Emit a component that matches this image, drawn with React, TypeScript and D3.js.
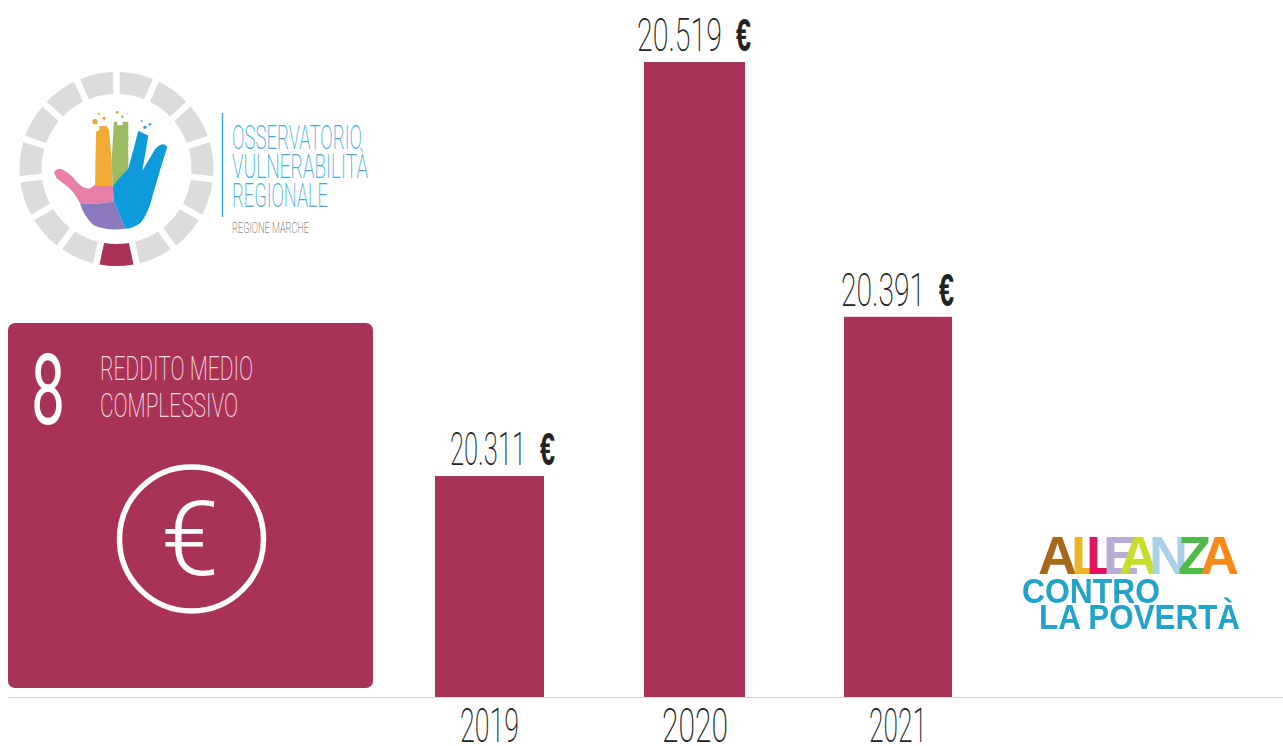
import React from "react";
import * as d3 from "d3";

const years = ["2019", "2020", "2021"];
const incomes = [20311, 20519, 20391];
const incomeLabels = ["20.311", "20.519", "20.391"];
const alleanzaLetters = ["A", "L", "L", "E", "A", "N", "Z", "A"];
const alleanzaColors = ["#a5691f", "#eeb325", "#dd1760", "#b9add8", "#c8dc2c", "#a9d0e6", "#4fb948", "#f68b1f"];
const alleanzaX = [1038, 1071, 1086, 1103, 1119, 1149, 1178, 1200];
const ringSegments = d3.range(15);

const WINE = "#a93356";
const BLUE = "#3fabdc";
const INK = "#222";
const THIN = "Roboto, 'Noto Sans', sans-serif";
const BOLD = "'Liberation Sans', Arial, sans-serif";

const y = d3.scaleLinear().domain([20200, 20519]).range([697, 62]);
const x = d3.scaleOrdinal<string, number>().domain(years).range([489.5, 694.5, 898]);
const barWidth = d3.scaleOrdinal<string, number>().domain(years).range([109, 101, 108]);
const labelStart = d3.scaleOrdinal<string, number>().domain(years).range([450, 637, 841]);
const labelWidth = d3.scaleOrdinal<string, number>().domain(years).range([76, 85, 84]);
const tickStart = d3.scaleOrdinal<string, number>().domain(years).range([460, 662, 869]);
const tickWidth = d3.scaleOrdinal<string, number>().domain(years).range([59, 66, 58]);

const ringArc = d3.arc<number>()
  .innerRadius(75)
  .outerRadius(97)
  .padAngle(0.075)
  .padRadius(86)
  .startAngle((d) => Math.PI + ((d - 0.5) * 2 * Math.PI) / 15)
  .endAngle((d) => Math.PI + ((d + 0.5) * 2 * Math.PI) / 15);

function Thin({ x, y, size, width, fill = INK, weight = 200, children }: any) {
  return (
    <text x={x} y={y} fontFamily={THIN} fontWeight={weight} fontSize={size} fill={fill}
      textLength={width} lengthAdjust="spacingAndGlyphs">{children}</text>
  );
}

const handShapes: [string, string][] = [
  ["#e77fa8", "M42 218 Q48 204 66 208 Q88 218 110 245 Q130 268 150 265 L165 255 L218 258 L222 305 L170 311 L120 310 Q105 280 85 262 L50 235 Z"],
  ["#8b78bd", "M120 310 L170 311 L222 305 L256 386 Q200 394 160 375 Q132 350 120 310 Z"],
  ["#f2ac35", "M165 258 L168 95 L178 90 L178 78 L200 78 L207 90 L215 180 L218 258 Z"],
  ["#9dbb62", "M215 180 L222 65 L232 65 L232 76 L248 76 L248 65 L265 65 L265 205 L240 240 L218 258 Z"],
  ["#0f9bdc", "M218 258 L265 205 L280 150 L295 92 L325 107 L307 212 L345 148 Q368 122 382 140 L362 205 L337 290 Q325 340 302 368 Q282 385 256 386 L222 305 Z"],
];
const handDots: [number, number, number, string][] = [
  [165, 65, 8, "#e8a84a"], [192, 55, 5, "#e8a84a"], [177, 42, 4, "#f2c04a"],
  [232, 37, 5, "#d8b060"], [247, 50, 4, "#a8b86a"], [262, 42, 2, "#b7c485"],
  [305, 63, 3, "#4aa8d8"], [330, 73, 4, "#4aa8d8"], [315, 82, 5, "#2f9fdc"],
];

export default function App() {
  return (
    <svg width={1283} height={746} viewBox="0 0 1283 746"
      style={{ position: "absolute", left: 0, top: 0, background: "#fff" }}>
      <defs>
        <filter id="soft" x="-5%" y="-5%" width="110%" height="110%">
          <feGaussianBlur stdDeviation="0.5" />
        </filter>
      </defs>

      {/* ring logo */}
      <g filter="url(#soft)">
        <g transform="translate(116.5,169)">
          {ringSegments.map((d) => (
            <path key={d} d={ringArc(d) || ""} fill={d === 0 ? WINE : "#dcdcdc"} />
          ))}
        </g>
        <g transform="translate(40,100) scale(0.3333)">
          {handShapes.map(([c, p], i) => <path key={i} d={p} fill={c} />)}
          {handDots.map(([cx, cy, r, c], i) => <circle key={i} cx={cx} cy={cy} r={r} fill={c} />)}
        </g>
      </g>
      <line x1={222.5} x2={222.5} y1={113} y2={217} stroke={BLUE} strokeWidth={1.5} />
      <Thin x={232} y={149} size={34} width={130} fill={BLUE}>OSSERVATORIO</Thin>
      <Thin x={232} y={178} size={34} width={136} fill={BLUE}>VULNERABILITÀ</Thin>
      <Thin x={232} y={207} size={34} width={96} fill={BLUE}>REGIONALE</Thin>
      <Thin x={232} y={233} size={14} width={77} fill="#555">REGIONE MARCHE</Thin>

      {/* indicator card */}
      <rect x={8} y={323} width={365} height={365} rx={7} fill={WINE} />
      <Thin x={31} y={424} size={99} width={34} fill="#fff" weight={400}>8</Thin>
      <Thin x={100} y={380} size={34} width={153} fill="#f8dfe6">REDDITO MEDIO</Thin>
      <Thin x={100} y={417} size={34} width={138} fill="#f8dfe6">COMPLESSIVO</Thin>
      <circle cx={191.5} cy={539} r={72} fill="none" stroke="#fff" strokeWidth={5.5} />
      <text x={190} y={575} textAnchor="middle" fontFamily={THIN} fontWeight={300} fontSize={104} fill="#fff">€</text>

      {/* bars */}
      {years.map((yr, i) => {
        const cx = x(yr);
        const w = barWidth(yr);
        const top = y(incomes[i]);
        const ls = labelStart(yr);
        const lw = labelWidth(yr);
        return (
          <g key={yr}>
            <rect x={cx - w / 2} y={top} width={w} height={y.range()[0] - top} fill={WINE} />
            <Thin x={ls} y={top - 11} size={47} width={lw}>{incomeLabels[i]}</Thin>
            <text x={ls + lw + 14} y={top - 11} fontFamily={BOLD} fontWeight={700} fontSize={46} fill={INK}
              textLength={15} lengthAdjust="spacingAndGlyphs">€</text>
            <Thin x={tickStart(yr)} y={742} size={48} width={tickWidth(yr)}>{yr}</Thin>
          </g>
        );
      })}
      <line x1={8} x2={1283} y1={697.5} y2={697.5} stroke="#d6d2d4" strokeWidth={1} />

      {/* alliance logo */}
      <g filter="url(#soft)">
        {alleanzaLetters.map((l, i) => (
          <text key={i} x={alleanzaX[i]} y={574} fontFamily={BOLD} fontWeight={700} fontSize={54}
            fill={alleanzaColors[i]}>{l}</text>
        ))}
        <text x={1022} y={603} fontFamily={BOLD} fontWeight={700} fontSize={35} fill="#22a3c9"
          textLength={138} lengthAdjust="spacingAndGlyphs">CONTRO</text>
        <text x={1039} y={629} fontFamily={BOLD} fontWeight={700} fontSize={35} fill="#22a3c9"
          textLength={201} lengthAdjust="spacingAndGlyphs">LA POVERTÀ</text>
      </g>
    </svg>
  );
}
